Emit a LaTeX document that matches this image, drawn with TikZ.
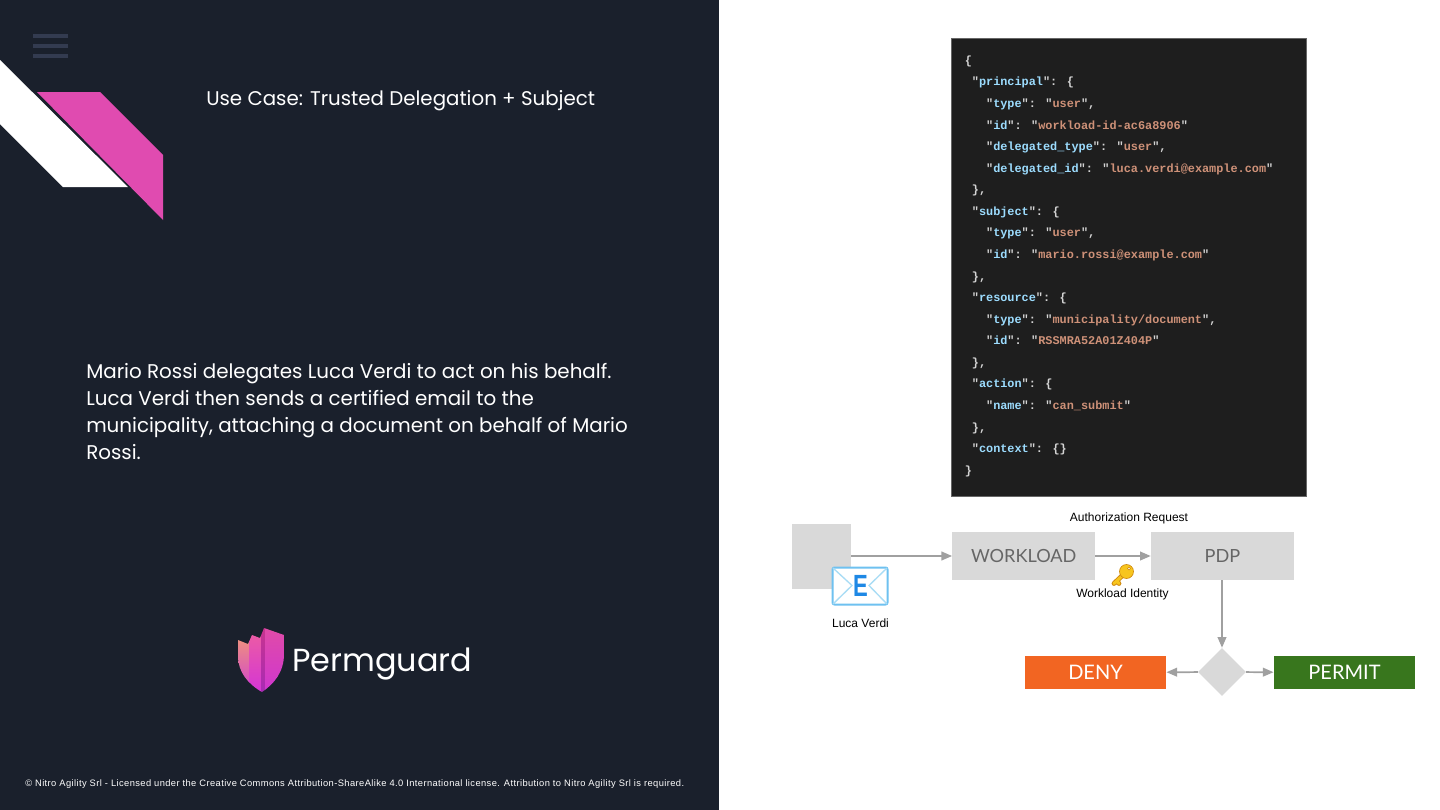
\documentclass[tikz,border=0pt]{standalone}
\usepackage{fontspec}
\usetikzlibrary{arrows.meta,shapes.geometric}
\setmainfont{Liberation Sans}
\newfontfamily\headf{Poppins}
\newfontfamily\latof{Lato}
\newfontfamily\footf[LetterSpace=4.3]{Liberation Sans}
\newfontfamily\jsonf[Ligatures=NoCommon]{Liberation Mono}
\definecolor{panel}{HTML}{1A202C}
\definecolor{burger}{HTML}{333B50}
\definecolor{brandpink}{HTML}{E04BB0}
\definecolor{jsonbg}{HTML}{1E1E1E}
\definecolor{jkey}{HTML}{9CDCFE}
\definecolor{jstr}{HTML}{CE9178}
\definecolor{jpun}{HTML}{D4D4D4}
\definecolor{boxgrey}{HTML}{D9D9D9}
\definecolor{boxtext}{HTML}{666666}
\definecolor{wire}{HTML}{A0A0A0}
\definecolor{denyc}{HTML}{F26522}
\definecolor{permitc}{HTML}{38761D}
\definecolor{mailblue}{HTML}{6EC1F0}
\definecolor{maillight}{HTML}{A8DCF5}
\definecolor{mailE}{HTML}{1E88E5}
\definecolor{gold}{HTML}{F7C51E}
\definecolor{golddark}{HTML}{D08A10}
\definecolor{lgA}{HTML}{F4A070}
\definecolor{lgB}{HTML}{D040D0}
\definecolor{lgC}{HTML}{EE5FA0}
\definecolor{lgD}{HTML}{D435D5}
\definecolor{lgE}{HTML}{C8348F}
\definecolor{lgF}{HTML}{A82BB5}
\definecolor{lgG}{HTML}{E04BA8}
\definecolor{lgH}{HTML}{CF36CF}
\newcommand{\jk}[1]{\textcolor{jkey}{#1}}
\newcommand{\js}[1]{\textcolor{jstr}{#1}}
\newcommand{\ia}{\hspace*{0.6em}}
\newcommand{\ib}{\hspace*{1.8em}}
\tikzset{
  lefttext/.style={anchor=west,inner sep=0pt,text=white},
  flowbox/.style={fill=boxgrey,inner sep=0pt,text=boxtext,font=\latof\fontsize{13.6}{16}\selectfont},
  outcome/.style={inner sep=0pt,minimum width=106pt,minimum height=25pt,text=white,font=\latof\fontsize{15}{18}\selectfont},
  smalllabel/.style={inner sep=0pt,text=black,font=\fontsize{9}{11}\selectfont},
  flow/.style={draw=wire,line width=1.3pt,-{Triangle[length=8pt,width=6.5pt]}},
}
\begin{document}
\begin{tikzpicture}[x=0.75pt,y=-0.75pt]
\useasboundingbox (0,0) rectangle (1440,810);
\fill[white] (0,0) rectangle (1440,810);
\fill[panel] (0,0) rectangle (718.5,810);
% menu
\foreach \yy in {36,46,56} \draw[burger,line width=2.4pt] (33,\yy) -- (68,\yy);
% corner decoration
\fill[white] (0,60) -- (128,187) -- (63,187) -- (0,124) -- cycle;
\fill[brandpink] (37,92) -- (100,92) -- (163,155) -- (163,220) -- cycle;
% texts
\node[lefttext,font=\headf\fontsize{14.85}{20}\selectfont] (title) at (206,98) [yshift=-2.2pt] {Use Case: Trusted Delegation + Subject};
\node[anchor=north west,inner sep=0pt,text=white,align=left,font=\headf\fontsize{14.9}{20.25}\selectfont] (body) at (86,363)
 {Mario Rossi delegates Luca Verdi to act on his behalf.\\Luca Verdi then sends a certified email to the\\municipality, attaching a document on behalf of Mario\\Rossi.};
% logo
\begin{scope}
\clip (238,640) -- (248,644) -- (252,635) -- (260,638) -- (264,628) -- (284,635) -- (284,654)
  .. controls (284,672) and (274,684) .. (262,692)
  .. controls (248,684) and (238,672) .. (238,656) -- cycle;
\shade[top color=lgA,bottom color=lgB] (238,628) rectangle (249,692);
\shade[top color=lgC,bottom color=lgD] (249,628) rectangle (261,692);
\shade[top color=lgE,bottom color=lgF] (261,628) rectangle (265,692);
\shade[top color=lgG,bottom color=lgH] (265,628) rectangle (284,692);
\end{scope}
\node[anchor=base west,inner sep=0pt,text=white,font=\headf\fontsize{23.9}{28}\selectfont] (brand) at (292,671) {Permguard};
\node[lefttext,font=\footf\fontsize{7}{8}\selectfont] (foot) at (25,784) {© Nitro Agility Srl - Licensed under the Creative Commons Attribution-ShareAlike 4.0 International license. Attribution to Nitro Agility Srl is required.};
% JSON
\draw[draw=black!60,line width=0.6pt,fill=jsonbg] (951.5,38.5) rectangle (1306.5,496.5);
\node[anchor=north west,inner sep=0pt,align=left,text=jpun,font=\jsonf\bfseries\fontsize{8.9}{16.18}\selectfont] (json) at (964.5,55.5) {%
\{\\
\ia"\jk{principal}": \{\\
\ib"\jk{type}": "\js{user}",\\
\ib"\jk{id}": "\js{workload-id-ac6a8906}"\\
\ib"\jk{delegated\_type}": "\js{user}",\\
\ib"\jk{delegated\_id}": "\js{luca.verdi@example.com}"\\
\ia\},\\
\ia"\jk{subject}": \{\\
\ib"\jk{type}": "\js{user}",\\
\ib"\jk{id}": "\js{mario.rossi@example.com}"\\
\ia\},\\
\ia"\jk{resource}": \{\\
\ib"\jk{type}": "\js{municipality/document}",\\
\ib"\jk{id}": "\js{RSSMRA52A01Z404P}"\\
\ia\},\\
\ia"\jk{action}": \{\\
\ib"\jk{name}": "\js{can\_submit}"\\
\ia\},\\
\ia"\jk{context}": \{\}\\
\}};
% flow
\node[fill=boxgrey,inner sep=0pt,minimum width=44.25pt,minimum height=48.75pt] (person) at (821.5,556.5) {};
\node[flowbox,minimum width=107pt,minimum height=36pt] (workload) at (1023.75,556) {WORKLOAD};
\node[flowbox,minimum width=107.25pt,minimum height=36pt] (pdp) at (1222.5,556) {PDP};
\node[diamond,aspect=1,fill=boxgrey,inner sep=0pt,minimum width=36pt,minimum height=36pt] (gate) at (1222,672) {};
\node[outcome,fill=denyc] (deny) at (1095.5,672.5) {DENY};
\node[outcome,fill=permitc] (permit) at (1344.5,672.5) {PERMIT};
\draw[flow] (person.east |- workload.west) -- (workload.west);
\draw[flow] (workload) -- (pdp);
\draw[flow] (gate.north |- pdp.south) -- (gate.north);
\draw[flow] (gate) -- (deny);
\draw[flow] (gate) -- (permit);
\node[smalllabel] (authlabel) at (1129,518.5) {Authorization Request};
\node[smalllabel] (idlabel) at (1122.5,594.5) {Workload Identity};
\node[smalllabel] (lucalabel) at (860.5,623) {Luca Verdi};
% mail icon
\draw[mailblue,line width=1.5pt,fill=white,rounded corners=1.5pt] (832.5,567.5) rectangle (887.5,604.5);
\draw[maillight,line width=1pt,line cap=round] (833,568) -- (852,585.5) -- (833,604) (887,568) -- (869,585.5) -- (887,604);
\node[inner sep=0pt,text=mailE,font=\bfseries\fontsize{23}{25}\selectfont] (mailletter) at (860.5,585.5) {\scalebox{0.72}[1]{E}};
% key icon
\draw[golddark,line width=3.6pt,line cap=round] (1124,574) -- (1114,583.5) (1116.5,581) -- (1119,583.5);
\draw[gold,line width=2.2pt,line cap=round] (1124,574) -- (1114,583.5) (1116.5,581) -- (1119,583.5);
\fill[gold,draw=golddark,line width=0.5pt,even odd rule] (1126.5,571.5) circle[radius=7] (1129,568.5) circle[radius=1.5];
\end{tikzpicture}
\end{document}
